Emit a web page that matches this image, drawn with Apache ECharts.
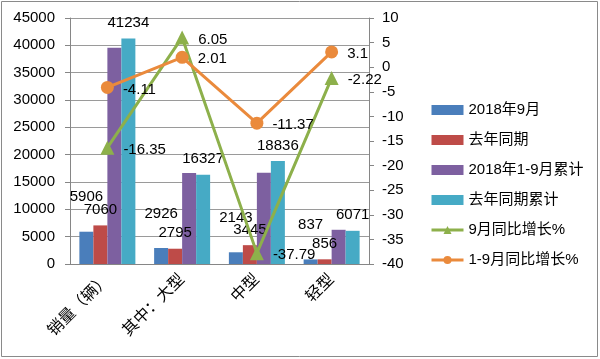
<!DOCTYPE html>
<html><head><meta charset="utf-8">
<script src="https://cdn.jsdelivr.net/npm/echarts@6/dist/echarts.min.js"></script>
<style>html,body{margin:0;padding:0;background:#fff}#c{width:600px;height:359px}</style>
</head><body><div id="c"></div>
<script>
const categories = ['销量（辆）', '其中：大型', '中型', '轻型'];
const sep2018 = [5906, 2926, 2143, 837];
const sepLastYear = [7060, 2795, 3445, 856];
const cum2018 = [39539, 16655, 16694, 6259];
const cumLastYear = [41234, 16327, 18836, 6071];
const sepGrowth = [-16.35, 6.05, -37.79, -2.22];
const cumGrowth = [-4.11, 2.01, -11.37, 3.1];
const leftTicks = { min: 0, max: 45000, interval: 5000 };
const rightTicks = { min: -40, max: 10, interval: 5 };

const FONT = '"Liberation Sans","Noto Sans CJK SC",sans-serif';
const chart = echarts.init(document.getElementById('c'));
const lbl = (dist) => ({ show: true, position: 'top', distance: dist, color: '#000', fontSize: 15, fontFamily: FONT });
const lineLbl = { show: true, position: 'right', distance: 9, offset: [0, 2], color: '#000', fontSize: 15, fontFamily: FONT };
chart.setOption({
  animation: false,
  backgroundColor: '#fff',
  grid: { left: 70, right: 231, top: 18, bottom: 95 },
  graphic: [{ type: 'rect', shape: { x: 1.5, y: 1.5, width: 596, height: 355 }, style: { fill: 'none', stroke: '#8a8a8a', lineWidth: 1 } }],
  legend: {
    orient: 'vertical', left: 425, top: 95, itemWidth: 32, itemHeight: 10, itemGap: 10,
    lineStyle: { width: 3 },
    textStyle: { fontSize: 15, fontFamily: FONT, color: '#000', lineHeight: 20 },
    data: [
      { name: '2018年9月', icon: 'rect' },
      { name: '去年同期', icon: 'rect' },
      { name: '2018年1-9月累计', icon: 'rect' },
      { name: '去年同期累计', icon: 'rect' },
      { name: '9月同比增长%' },
      { name: '1-9月同比增长%' }
    ]
  },
  xAxis: {
    type: 'category', data: categories,
    axisLine: { lineStyle: { color: '#868686' } },
    axisTick: { length: 5, lineStyle: { color: '#868686' } },
    axisLabel: { rotate: 45, fontSize: 16, fontFamily: FONT, color: '#000', margin: 13 }
  },
  yAxis: [
    { type: 'value', min: leftTicks.min, max: leftTicks.max, interval: leftTicks.interval,
      axisLine: { show: true, lineStyle: { color: '#868686' } },
      axisTick: { show: true, length: 5, lineStyle: { color: '#868686' } },
      splitLine: { lineStyle: { color: '#9a9a9a' } },
      axisLabel: { fontSize: 15, fontFamily: FONT, color: '#000', margin: 15, formatter: (v) => String(v) } },
    { type: 'value', min: rightTicks.min, max: rightTicks.max, interval: rightTicks.interval,
      axisLine: { show: true, lineStyle: { color: '#868686' } },
      axisTick: { show: true, length: 5, lineStyle: { color: '#868686' } },
      splitLine: { show: false },
      axisLabel: { fontSize: 15, fontFamily: FONT, color: '#000', margin: 13, formatter: (v) => String(v) } }
  ],
  series: [
    { name: '2018年9月', type: 'bar', data: sep2018, barWidth: 14, barGap: '0%', barCategoryGap: '25%', itemStyle: { color: '#4A7EBB' }, label: lbl(27) },
    { name: '去年同期', type: 'bar', data: sepLastYear, barWidth: 14, barGap: '0%', itemStyle: { color: '#BE4B48' }, label: lbl(8) },
    { name: '2018年1-9月累计', type: 'bar', data: cum2018, barWidth: 14, barGap: '0%', itemStyle: { color: '#7D60A0' } },
    { name: '去年同期累计', type: 'bar', data: cumLastYear, barWidth: 14, barGap: '0%', itemStyle: { color: '#46AAC5' }, label: lbl(8) },
    { name: '9月同比增长%', type: 'line', yAxisIndex: 1, data: sepGrowth, symbol: 'triangle', symbolSize: 14,
      lineStyle: { width: 3, color: '#8DB04B' }, itemStyle: { color: '#8DB04B' }, label: lineLbl },
    { name: '1-9月同比增长%', type: 'line', yAxisIndex: 1, data: cumGrowth, symbol: 'circle', symbolSize: 13,
      lineStyle: { width: 3, color: '#EA8A3C' }, itemStyle: { color: '#EA8A3C' }, label: lineLbl }
  ]
});
</script></body></html>
